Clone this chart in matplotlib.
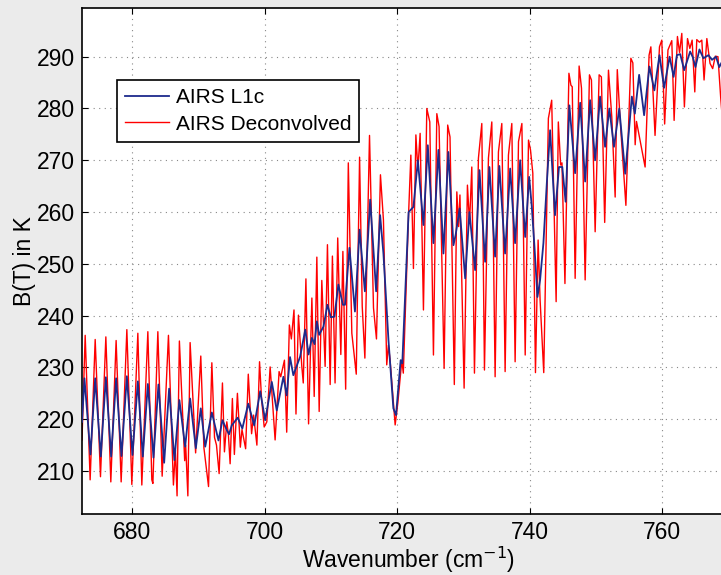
import matplotlib
matplotlib.use("Agg")
import matplotlib.pyplot as plt

plt.rcParams['font.family'] = ['Liberation Sans', 'DejaVu Sans']

# ---- data (wavenumber in cm^-1, brightness temperature in K)
l1c_wn = [672.4, 672.77, 673.68, 674.39, 675.24, 676.0, 676.8, 677.55, 678.36, 679.17,
          680.02, 680.83, 681.58, 682.34, 683.19, 683.94, 684.8, 685.55, 686.35, 687.1,
          687.97, 688.72, 689.58, 690.33, 691.0, 692.0, 693.0, 693.6, 694.26, 694.6,
          695.0, 695.9, 696.6, 697.5, 698.4, 699.3, 700.05, 701.05, 701.8, 702.8,
          703.3, 703.8, 704.3, 705.33, 706.1, 706.6, 707.1, 707.5, 707.85, 708.2,
          708.85, 709.45, 709.96, 710.5, 711.1, 711.78, 712.1, 712.77, 713.6, 714.3,
          715.1, 715.9, 716.8, 717.4, 717.9, 718.66, 719.4, 719.8, 720.5, 720.75,
          721.7, 722.43, 723.1, 723.94, 724.6, 725.45, 726.2, 726.96, 727.7, 728.47,
          728.8, 729.4, 730.24, 730.88, 731.74, 732.4, 733.25, 733.9, 734.76, 735.4,
          736.27, 737.03, 737.78, 738.54, 739.3, 739.9, 740.3, 740.7, 741.15, 741.55,
          742.05, 742.56, 743.06, 743.8, 744.4, 744.9, 745.4, 745.97, 746.84, 747.6,
          748.35, 749.1, 749.86, 750.6, 751.36, 752.0, 752.7, 753.5, 754.4, 755.4,
          755.85, 756.5, 757.25, 758.05, 758.8, 759.57, 760.27, 761.1, 761.7, 762.2,
          762.7, 763.3, 764.2, 764.6, 765.0, 765.6, 766.2, 766.96, 767.5, 768.1,
          768.6, 769.0]
l1c_bt = [219.5, 227.9, 213.2, 227.9, 212.8, 228.1, 212.8, 227.9, 212.9, 228.3,
          213.1, 227.3, 212.8, 226.8, 212.6, 226.7, 211.6, 225.9, 212.1, 223.7,
          214.7, 224.0, 214.4, 222.1, 214.7, 221.3, 215.9, 219.8, 217.9, 217.1,
          218.8, 220.3, 218.2, 223.0, 218.8, 225.4, 219.8, 227.2, 221.7, 228.2,
          224.6, 232.0, 228.5, 232.1, 237.3, 232.5, 235.7, 234.5, 238.9, 236.3,
          237.9, 242.1, 239.7, 239.8, 246.0, 242.1, 242.1, 253.1, 240.8, 256.6,
          244.7, 262.4, 244.7, 259.4, 252.0, 235.3, 222.1, 220.8, 231.4, 230.8,
          260.0, 261.0, 270.0, 257.5, 272.9, 254.0, 272.0, 252.0, 271.6, 253.6,
          255.6, 260.7, 247.2, 260.0, 248.8, 268.1, 250.4, 268.7, 251.4, 268.9,
          252.0, 268.4, 254.0, 270.0, 255.2, 266.8, 261.0, 253.3, 243.6, 246.9,
          254.0, 265.5, 275.8, 259.4, 268.7, 268.7, 262.0, 280.6, 267.5, 281.1,
          265.9, 281.6, 270.0, 282.3, 272.6, 280.0, 272.6, 280.0, 267.4, 282.3,
          279.0, 286.5, 278.7, 288.1, 283.5, 290.3, 284.0, 290.0, 286.1, 290.3,
          290.5, 287.4, 291.0, 289.9, 288.0, 291.4, 289.7, 290.3, 289.4, 290.0,
          288.0, 289.0]

dec_wn = [672.4, 672.88, 673.63, 674.39, 675.19, 676.0, 676.75, 677.55, 678.31, 679.17,
          679.92, 680.83, 681.43, 682.34, 682.94, 683.1, 683.85, 684.5, 685.45, 686.2,
          686.5, 686.75, 687.1, 687.9, 688.05, 688.38, 688.72, 689.55, 690.33, 690.8,
          691.5, 692.0, 692.4, 692.7, 693.1, 693.6, 693.9, 694.26, 694.5, 694.76,
          695.1, 695.4, 695.86, 696.3, 696.55, 697.1, 697.5, 698.0, 698.3, 698.8,
          699.2, 699.5, 699.9, 700.3, 700.8, 701.55, 702.15, 702.4, 702.96, 703.3,
          703.7, 704.0, 704.4, 704.7, 705.07, 705.58, 705.8, 706.2, 706.6, 707.1,
          707.45, 707.85, 708.2, 708.6, 709.1, 709.45, 709.86, 710.2, 710.6, 711.0,
          711.47, 711.78, 712.2, 712.6, 713.13, 713.8, 714.3, 714.7, 715.1, 715.8,
          716.4, 716.85, 717.45, 717.9, 718.4, 718.65, 718.9, 719.67, 720.07, 720.68,
          720.9, 721.7, 722.04, 722.43, 722.8, 723.1, 723.44, 723.94, 724.45, 724.9,
          725.45, 725.96, 726.3, 727.06, 727.6, 727.95, 728.6, 728.98, 729.25, 729.45,
          730.08, 730.58, 730.9, 731.24, 731.64, 732.24, 732.75, 733.15, 733.75, 734.26,
          734.76, 735.26, 735.77, 736.27, 736.77, 737.28, 737.78, 738.29, 738.8, 739.3,
          739.8, 740.1, 740.45, 740.85, 741.25, 741.55, 742.1, 742.8, 743.3, 743.97,
          744.3, 744.65, 744.85, 745.3, 745.9, 746.2, 746.4, 746.84, 747.44, 747.8,
          748.35, 749.0, 749.3, 749.86, 750.46, 750.8, 751.3, 751.87, 752.37, 752.88,
          753.2, 753.6, 754.5, 755.25, 755.55, 755.9, 756.1, 757.4, 758.0, 758.27,
          758.9, 759.57, 759.92, 760.35, 760.85, 761.43, 761.78, 762.28, 762.6, 762.94,
          763.33, 763.8, 764.15, 764.5, 764.9, 765.2, 765.6, 765.96, 766.3, 766.72,
          767.2, 767.6, 768.0, 768.4, 768.8, 769.0]
dec_bt = [216.0, 236.2, 208.3, 235.4, 208.9, 235.9, 207.9, 235.2, 207.9, 237.3,
          207.4, 236.6, 207.3, 236.9, 208.3, 207.6, 236.9, 209.0, 236.2, 207.3,
          214.0, 205.2, 235.1, 212.0, 215.0, 205.2, 234.8, 213.5, 232.2, 214.5,
          207.0, 230.9, 216.5, 215.0, 209.5, 227.0, 213.7, 219.5, 217.0, 211.4,
          224.0, 213.2, 225.0, 214.6, 218.0, 214.3, 228.7, 217.2, 220.8, 215.0,
          231.1, 224.0, 218.5, 219.5, 230.1, 216.0, 229.2, 228.2, 231.4, 217.5,
          238.2, 235.5, 241.1, 221.0, 240.1, 230.2, 227.0, 247.1, 219.1, 243.4,
          224.4, 251.3, 221.5, 246.8, 230.2, 253.7, 226.7, 251.5, 227.0, 255.0,
          232.5, 252.4, 225.8, 269.5, 236.6, 228.7, 270.6, 241.8, 231.8, 274.8,
          241.5, 235.5, 267.2, 258.5, 230.5, 234.3, 231.5, 218.9, 223.1, 231.4,
          228.9, 259.7, 271.0, 249.1, 274.9, 268.2, 275.2, 241.1, 280.0, 277.4,
          232.4, 279.0, 276.5, 229.8, 276.8, 274.5, 226.7, 263.9, 257.2, 263.3,
          226.0, 265.2, 257.8, 268.7, 228.9, 270.4, 277.1, 229.5, 270.4, 277.4,
          228.2, 271.6, 277.1, 229.2, 271.0, 277.1, 231.1, 273.6, 277.1, 232.4,
          273.9, 272.0, 267.5, 229.0, 254.6, 243.0, 229.0, 278.1, 281.6, 242.7,
          277.4, 269.1, 269.5, 246.2, 286.8, 284.5, 284.2, 247.2, 288.2, 283.9,
          246.9, 286.5, 285.5, 256.2, 286.5, 286.1, 258.0, 287.4, 278.4, 262.9,
          287.5, 278.4, 261.3, 289.7, 288.8, 273.0, 277.5, 268.7, 290.3, 291.9,
          274.8, 291.9, 293.2, 277.0, 291.3, 293.1, 277.7, 293.9, 290.8, 294.5,
          280.3, 293.5, 291.6, 293.2, 283.2, 293.3, 292.8, 293.2, 285.5, 293.5,
          288.7, 287.7, 290.1, 290.0, 282.3, 279.0]

x_ticks = [680, 700, 720, 740, 760]
y_ticks = [210, 220, 230, 240, 250, 260, 270, 280, 290]
series_labels = ["AIRS L1c", "AIRS Deconvolved"]

FS = 16.5
bg = '#ebebeb'
fig = plt.figure(figsize=(7.21, 5.75), dpi=100, facecolor=bg)
W, H = 721, 575
ax = fig.add_axes([82 / W, 61 / H, 653 / W, 506.5 / H])

l1, = ax.plot(l1c_wn, l1c_bt, color='#1c2a8c', lw=1.3, zorder=3, label=series_labels[0])
l2, = ax.plot(dec_wn, dec_bt, color='#ff0000', lw=1.0, zorder=2, label=series_labels[1])

ax.set_xlim(672.4, 770.97)
ax.set_ylim(201.7, 299.5)
ax.set_xticks(x_ticks)
ax.set_yticks(y_ticks)
ax.tick_params(direction='in', top=True, right=True, length=4, width=0.8,
               labelsize=FS, pad=5, colors='black')
ax.grid(True, color='#888888', linestyle=(0, (1, 4)), linewidth=0.8)
for s in ax.spines.values():
    s.set_linewidth(1.2)
    s.set_color('black')

ax.set_xlabel('Wavenumber (cm$^{-1}$)', fontsize=FS, labelpad=0.5)
ax.set_ylabel('B(T) in K', fontsize=FS, labelpad=1)

leg = ax.legend(handles=[l1, l2], loc='upper left', bbox_to_anchor=(0.0536, 0.857),
                borderaxespad=0, fontsize=15, frameon=True, fancybox=False,
                edgecolor='black', framealpha=1, handlelength=2.1, handletextpad=0.35,
                borderpad=0.38, labelspacing=0.38)
leg.get_frame().set_linewidth(1.2)

fig.savefig('out.png', dpi=100, facecolor=bg)
